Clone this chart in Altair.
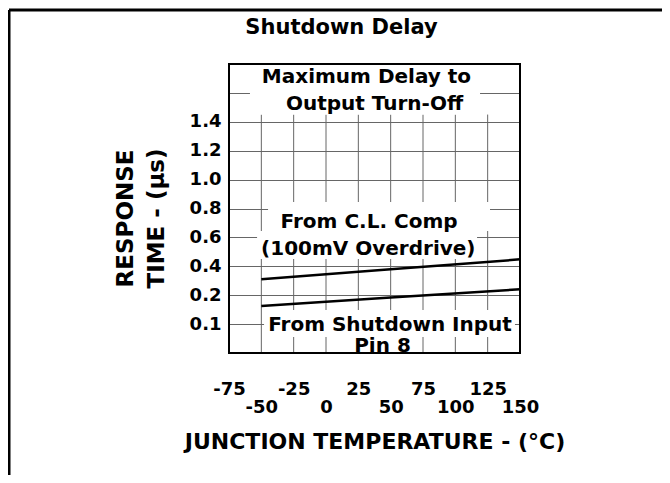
import altair as alt
import pandas as pd

# ---- data ----
temps = [-50, 50, 150]
cl_comp = [0.31, 0.379, 0.448]        # From C.L. Comp (100mV Overdrive)
shutdown = [0.163, 0.192, 0.241]      # From Shutdown Input Pin 8

x_ticks = [-75, -50, -25, 0, 25, 50, 75, 100, 125, 150]
x_grid = [-50, -25, 0, 25, 50, 75, 100, 125]
y_ticks = [0.1, 0.2, 0.4, 0.6, 0.8, 1.0, 1.2, 1.4, 1.6]
x_domain = [-75, 150]
y_domain = [0, 0.1, 0.2, 1.8]

ann_text = ["Maximum Delay to", "Output Turn-Off", "From C.L. Comp",
            "(100mV Overdrive)", "From Shutdown Input", "Pin 8"]
ann_x = [31.3, 37.5, 33.3, 32.7, 49.5, 43.7]
ann_y = [1.668, 1.482, 0.663, 0.478, 0.0772, 0.0045]

box_x = [-58.8, -44.8, -53.3, -47.9, 18.6]
box_x2 = [119.1, 126.8, 116.8, 146.1, 68.8]
box_y = [1.45, 0.644, 0.45, 0.0554, 0.0035]
box_y2 = [1.78, 0.845, 0.644, 0.1488, 0.0554]

# ---- layout ----
W, H = 291, 289
ROW = H / 10
FONT = "DejaVu Sans"
GRID = "#666666"

xscale = alt.Scale(domain=x_domain, nice=False, zero=False)
yscale = alt.Scale(domain=y_domain, range=[H, H - ROW, H - 2 * ROW, 0],
                   nice=False, zero=False)

xaxis = alt.Axis(
    values=x_ticks, grid=False, domain=False, ticks=False,
    labelExpr="toString(datum.value)", labelFontSize=18,
    labelOverlap=False, labelFlush=False, labelBound=False,
    labelPadding={"condition": {"test": "abs(datum.value) % 50 == 25", "value": 27},
                  "value": 45},
    title="JUNCTION TEMPERATURE - (°C)", titleFontSize=22,
    titleBaseline="alphabetic", titleY=95,
)
yaxis = alt.Axis(
    values=y_ticks, grid=True, gridColor=GRID, gridWidth=1,
    domain=False, ticks=False, labelFontSize=18, labelPadding=8,
    labelOverlap=False, labelFlush=False,
    labelExpr="datum.value > 1.5 ? '' : format(datum.value, '.1f')",
    title=["RESPONSE", "TIME - (µs)"], titleFontSize=23, titleAngle=270,
    titleBaseline="alphabetic", titleAlign="center", titleLineHeight=31,
    titleX=-97, titleY=154,
)

def X(f):
    return alt.X(f, type="quantitative", scale=xscale, axis=xaxis)

def Y(f):
    return alt.Y(f, type="quantitative", scale=yscale, axis=yaxis)

# vertical grid lines (stop below the top caption)
vgrid_df = pd.DataFrame({"x": x_grid, "y": [0] * len(x_grid), "y2": [1.45] * len(x_grid)})
vgrid = alt.Chart(vgrid_df).mark_rule(color=GRID, strokeWidth=1).encode(
    x=X("x"), y=Y("y"), y2="y2")

boxes_df = pd.DataFrame({"x": box_x, "x2": box_x2, "y": box_y, "y2": box_y2})
boxes = alt.Chart(boxes_df).mark_rect(color="white").encode(
    x=X("x"), x2="x2", y=Y("y"), y2="y2")

ann_df = pd.DataFrame({"t": ann_text, "x": ann_x, "y": ann_y})
ann = alt.Chart(ann_df).mark_text(
    font=FONT, fontWeight="bold", fontSize=20, baseline="alphabetic",
    align="center", color="black").encode(x=X("x"), y=Y("y"), text="t")

lines_df = pd.DataFrame({
    "x": temps * 2,
    "y": cl_comp + shutdown,
    "s": ["C.L. Comp"] * len(temps) + ["Shutdown"] * len(temps),
})
lines = alt.Chart(lines_df).mark_line(color="black", strokeWidth=2.5).encode(
    x=X("x"), y=Y("y"), detail="s")

border_df = pd.DataFrame({"x": [x_domain[0]], "x2": [x_domain[1]],
                          "y": [y_domain[0]], "y2": [y_domain[-1]]})
border = alt.Chart(border_df).mark_rect(filled=False, stroke="black", strokeWidth=2).encode(
    x=X("x"), x2="x2", y=Y("y"), y2="y2")

one = pd.DataFrame({"a": [0]})
frame_left = alt.Chart(one).mark_rule(color="black", strokeWidth=3).encode(
    x=alt.value(-220), y=alt.value(-54), y2=alt.value(411))
frame_top = alt.Chart(one).mark_rule(color="black", strokeWidth=3).encode(
    x=alt.value(-220), x2=alt.value(433), y=alt.value(-54))

chart = alt.layer(vgrid, boxes, ann, lines, border, frame_left, frame_top).properties(
    width=W, height=H,
    autosize=alt.AutoSizeParams(type="none"),
    padding={"left": 221, "top": 56, "right": 142, "bottom": 122},
    title=alt.Title("Shutdown Delay", font=FONT, fontSize=21, fontWeight="bold",
                    anchor="middle", frame="group", dx=-33, dy=46,
                    baseline="alphabetic", offset=0, color="black"),
).configure_axis(
    labelFont=FONT, labelFontWeight="bold", labelColor="black",
    titleFont=FONT, titleFontWeight="bold", titleColor="black",
).configure_view(strokeWidth=0)

chart.save("out.html", embed_options={"renderer": "svg", "actions": False})
